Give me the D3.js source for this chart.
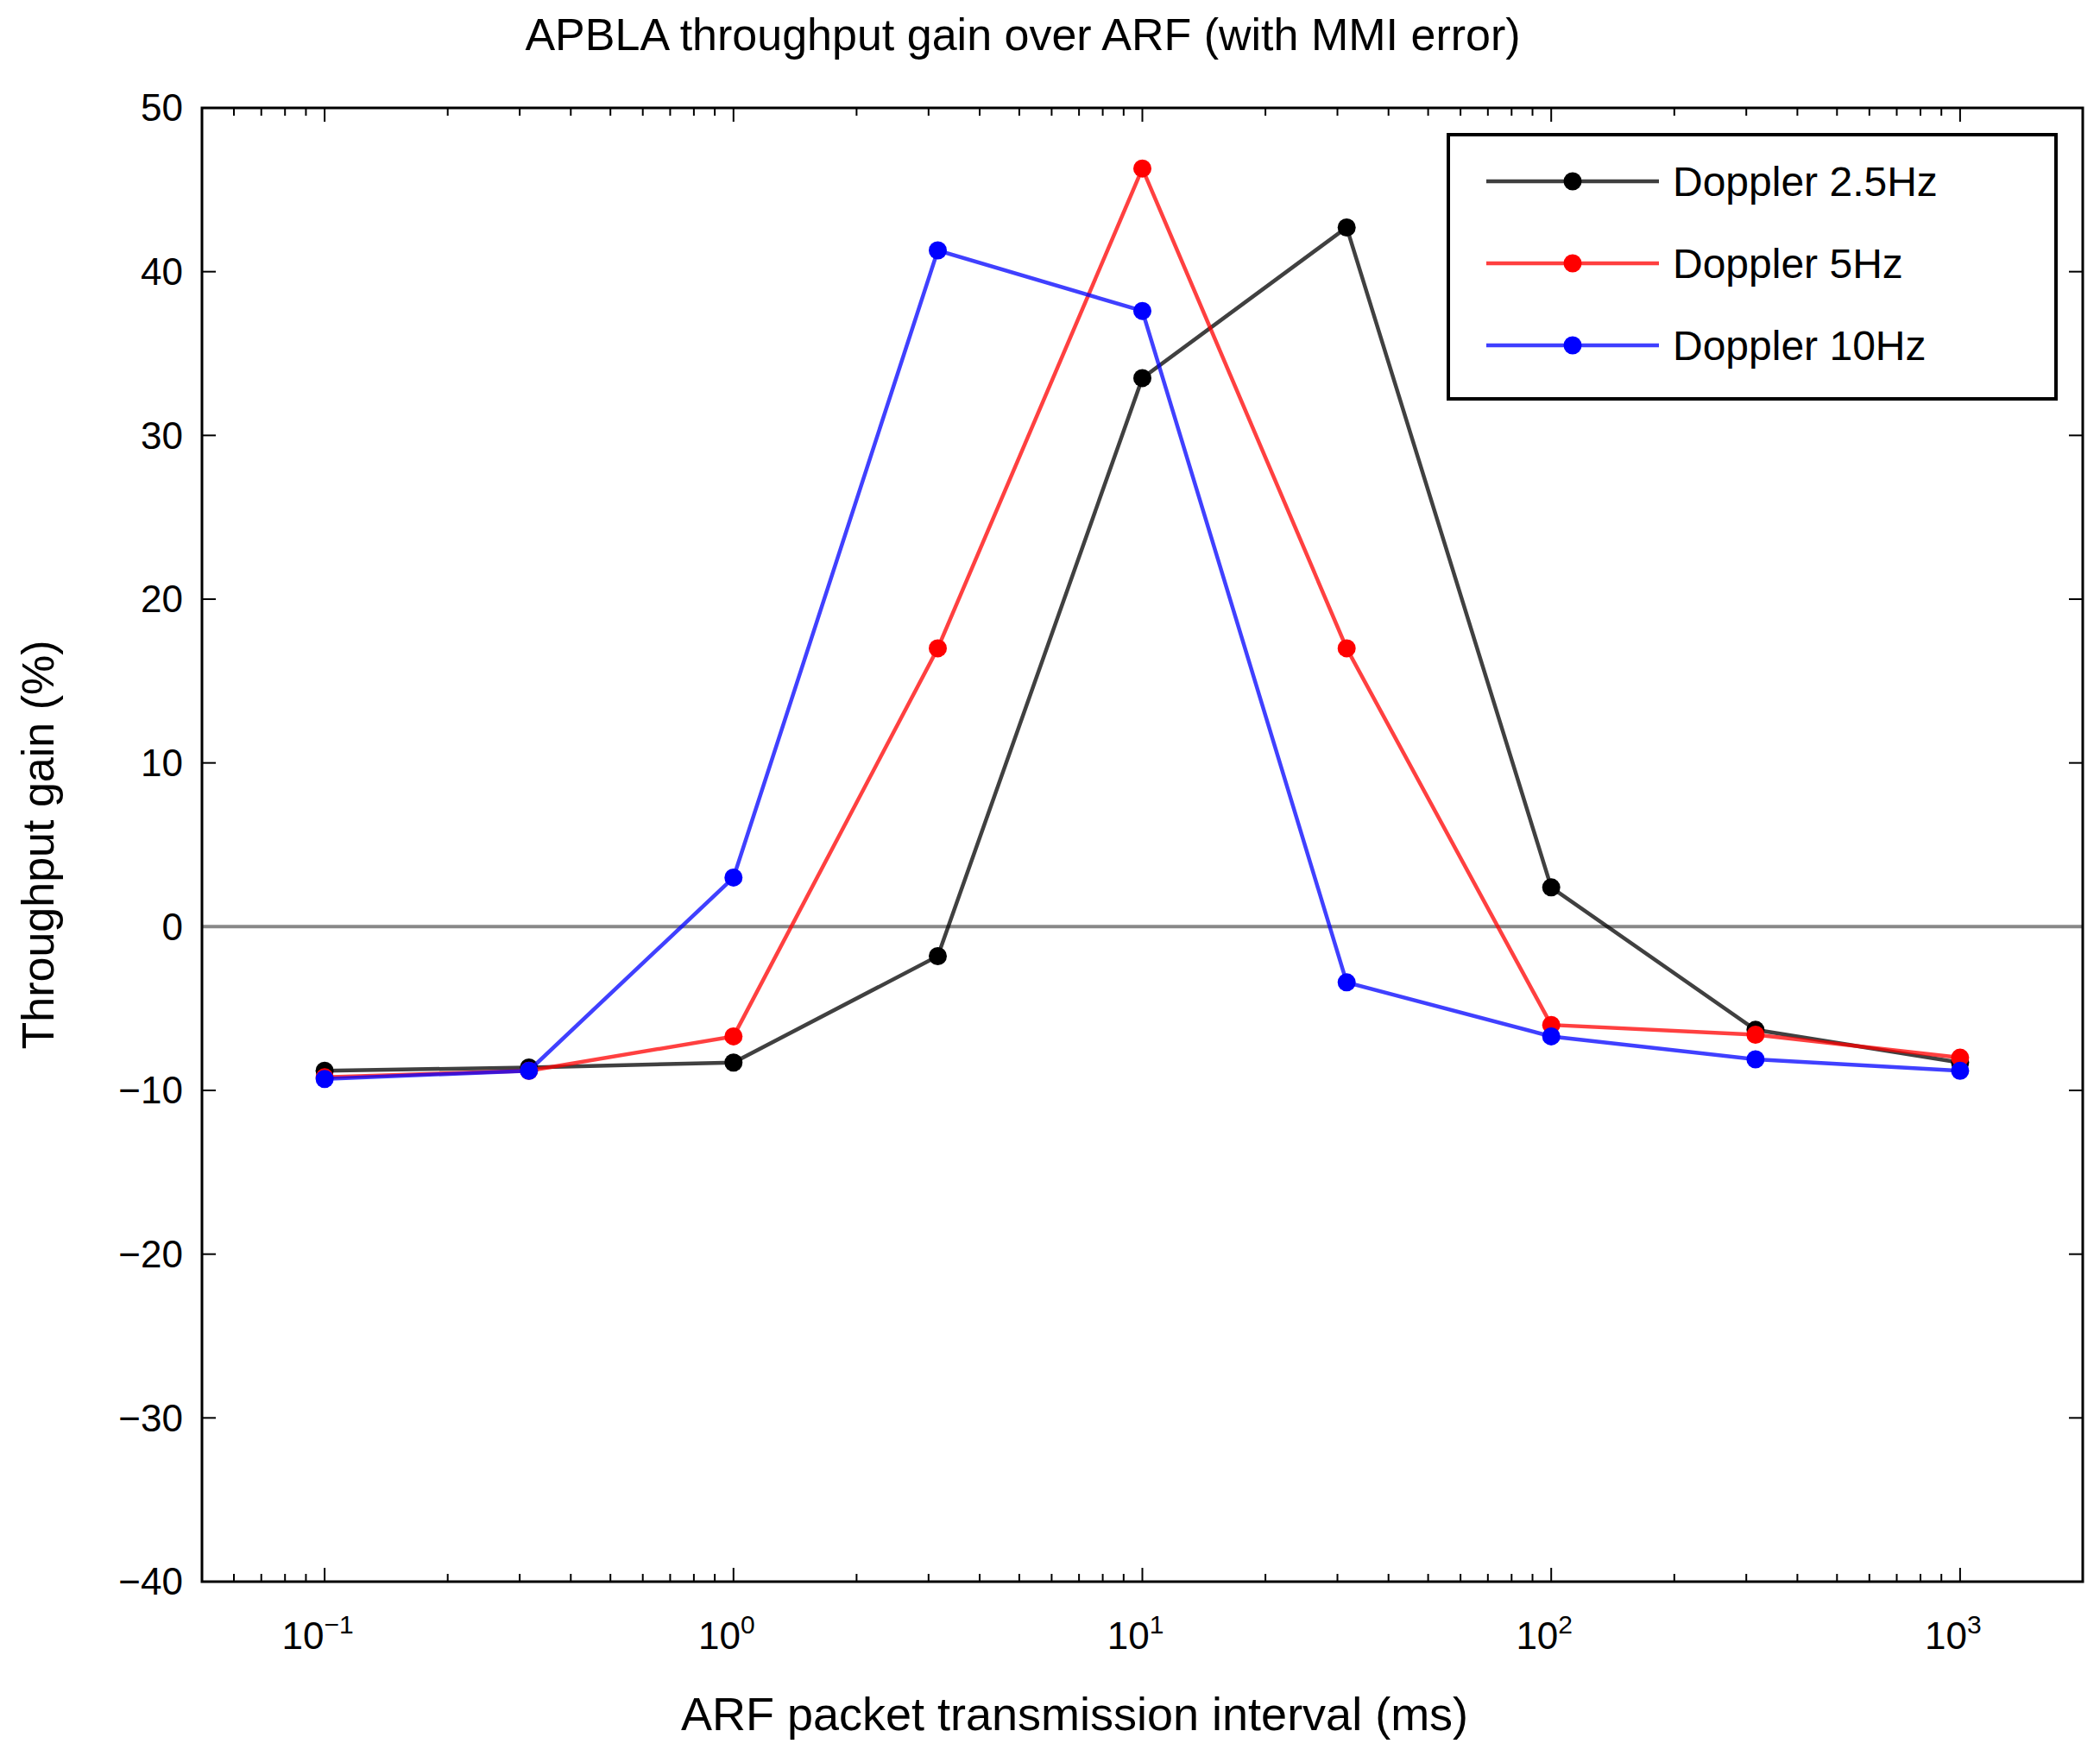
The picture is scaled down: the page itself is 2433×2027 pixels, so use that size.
<!DOCTYPE html>
<html><head><meta charset="utf-8">
<script src="https://cdn.jsdelivr.net/npm/d3@7"></script>
<style>body{margin:0;background:#fff}text{font-family:"Liberation Sans",Arial,sans-serif}</style>
</head><body><div id="chart"></div>
<script>
// APBLA throughput gain over ARF
const intervals = [0.1, 0.316, 1, 3.16, 10, 31.6, 100, 316, 1000];
const doppler25 = [-8.8, -8.6, -8.3, -1.8, 33.5, 42.7, 2.4, -6.3, -8.3];
const doppler5 = [-9.2, -8.8, -6.7, 17, 46.3, 17, -6, -6.6, -8];
const doppler10 = [-9.3, -8.8, 3, 41.3, 37.6, -3.4, -6.7, -8.1, -8.8];
const seriesNames = ["Doppler 2.5Hz", "Doppler 5Hz", "Doppler 10Hz"];
const seriesColors = ["#000000", "#ff0000", "#0000ff"];
const yTicks = [-40, -30, -20, -10, 0, 10, 20, 30, 40, 50];
const xTicks = [0.1, 1, 10, 100, 1000];
const xExp = ["\u22121", "0", "1", "2", "3"];

const W = 2433, H = 2027;
const margin = { top: 125, right: 20, bottom: 195, left: 234 };
const svg = d3.select("#chart").append("svg").attr("width", W).attr("height", H);
const g = svg.append("g").attr("transform", `translate(${margin.left},${margin.top})`);
const width = W - margin.left - margin.right, height = H - margin.top - margin.bottom;

const x = d3.scaleLog().domain([Math.pow(10, -1.3), Math.pow(10, 3.3)]).range([0, width]);
const y = d3.scaleLinear().domain([-40, 50]).range([height, 0]);

// minor + major ticks on log axis (inside, top and bottom)
const allX = [];
for (let e = -2; e <= 3; e++) for (let k = 1; k <= 9; k++) {
  const v = k * Math.pow(10, e);
  if (v >= x.domain()[0] && v <= x.domain()[1]) allX.push(v);
}
allX.forEach(v => {
  const len = xTicks.includes(v) ? 16 : 9;
  [[height, height - len], [0, len]].forEach(([a, b]) =>
    g.append("line").attr("x1", x(v)).attr("x2", x(v)).attr("y1", a).attr("y2", b)
      .attr("stroke", "#000").attr("stroke-width", 2));
});
yTicks.forEach(v => {
  [[0, 16], [width, width - 16]].forEach(([a, b]) =>
    g.append("line").attr("x1", a).attr("x2", b).attr("y1", y(v)).attr("y2", y(v))
      .attr("stroke", "#000").attr("stroke-width", 2));
  g.append("text").attr("x", -22).attr("y", y(v)).attr("dy", "0.35em")
    .attr("text-anchor", "end").attr("font-size", 44).text(v < 0 ? "\u2212" + (-v) : v);
});
xTicks.forEach((v, i) => {
  const t = g.append("text").attr("x", x(v) - 8).attr("y", height + 78)
    .attr("text-anchor", "middle").attr("font-size", 44);
  t.append("tspan").text("10");
  t.append("tspan").attr("dy", -18).attr("font-size", 30).text(xExp[i]);
});

// zero line
g.append("line").attr("x1", 0).attr("x2", width).attr("y1", y(0)).attr("y2", y(0))
  .attr("stroke", "#888").attr("stroke-width", 4);

g.append("rect").attr("width", width).attr("height", height)
  .attr("fill", "none").attr("stroke", "#000").attr("stroke-width", 3);

const line = d3.line().x(d => x(d[0])).y(d => y(d[1]));
[doppler25, doppler5, doppler10].forEach((vals, i) => {
  const pts = intervals.map((v, j) => [v, vals[j]]);
  g.append("path").datum(pts).attr("d", line).attr("fill", "none")
    .attr("stroke", seriesColors[i]).attr("stroke-width", 4.5).attr("opacity", 0.75);
  g.selectAll(null).data(pts).enter().append("circle")
    .attr("cx", d => x(d[0])).attr("cy", d => y(d[1])).attr("r", 10.5).attr("fill", seriesColors[i]);
});

// legend
const lg = svg.append("g");
lg.append("rect").attr("x", 1678).attr("y", 156).attr("width", 704).attr("height", 306)
  .attr("fill", "#fff").attr("stroke", "#000").attr("stroke-width", 4);
seriesNames.forEach((n, i) => {
  const yy = 210 + i * 95;
  lg.append("line").attr("x1", 1722).attr("x2", 1922).attr("y1", yy).attr("y2", yy)
    .attr("stroke", seriesColors[i]).attr("stroke-width", 4.5).attr("opacity", 0.75);
  lg.append("circle").attr("cx", 1822).attr("cy", yy).attr("r", 10.5).attr("fill", seriesColors[i]);
  lg.append("text").attr("x", 1938).attr("y", yy).attr("dy", "0.35em").attr("font-size", 48).text(n);
});

svg.append("text").attr("x", 1185).attr("y", 58).attr("text-anchor", "middle")
  .attr("font-size", 52).text("APBLA throughput gain over ARF  (with MMI error)");
svg.append("text").attr("x", 1245).attr("y", 2004).attr("text-anchor", "middle")
  .attr("font-size", 54).text("ARF packet transmission interval (ms)");
svg.append("text").attr("transform", `translate(62,${margin.top + height / 2}) rotate(-90)`)
  .attr("text-anchor", "middle").attr("font-size", 52).text("Throughput gain (%)");
</script></body></html>
